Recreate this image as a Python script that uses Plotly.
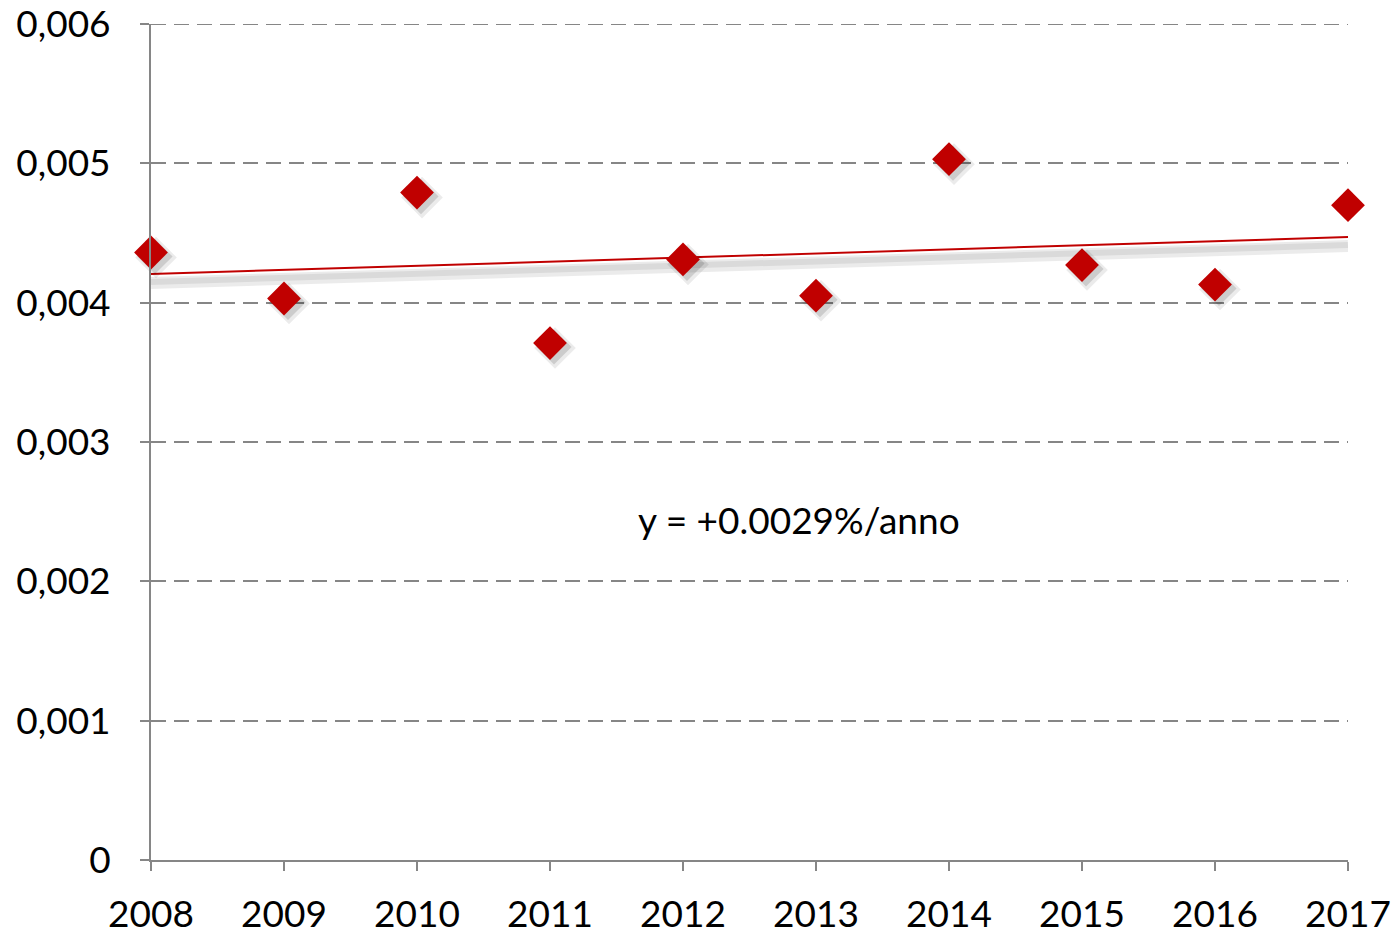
import numpy as np
import plotly.graph_objects as go

years = [2008, 2009, 2010, 2011, 2012, 2013, 2014, 2015, 2016, 2017]
values = [0.00436, 0.00403, 0.00479, 0.00371, 0.00431, 0.00405, 0.00503, 0.00427, 0.00413, 0.00470]
y_ticks = [0, 0.001, 0.002, 0.003, 0.004, 0.005, 0.006]
y_tick_labels = ["0", "0,001", "0,002", "0,003", "0,004", "0,005", "0,006"]
trend_label = "y = +0.0029%/anno"

x = np.array(years, dtype=float)
y = np.array(values)
slope, intercept = np.polyfit(x, y, 1)
trend_x = np.array([years[0], years[-1]], dtype=float)
trend_y = slope * trend_x + intercept

# pixel scale helpers for shadow offsets
px_x = (years[-1] - years[0]) / 1197.0
px_y = 0.006 / 836.0

FONT = "Lato"
RED = "#C00000"
GREY = "#868686"

fig = go.Figure()

# trend line shadow
fig.add_trace(go.Scatter(x=trend_x, y=trend_y - 9 * px_y, mode="lines",
                         line=dict(color="rgba(0,0,0,0.08)", width=12),
                         hoverinfo="skip", showlegend=False, cliponaxis=False))
fig.add_trace(go.Scatter(x=trend_x, y=trend_y - 8 * px_y, mode="lines",
                         line=dict(color="rgba(0,0,0,0.07)", width=6),
                         hoverinfo="skip", showlegend=False, cliponaxis=False))
# trend line
fig.add_trace(go.Scatter(x=trend_x, y=trend_y, mode="lines",
                         line=dict(color=RED, width=2),
                         hoverinfo="skip", showlegend=False, cliponaxis=False))
# marker shadows
fig.add_trace(go.Scatter(x=x + 5 * px_x, y=y - 5 * px_y, mode="markers",
                         marker=dict(symbol="diamond", size=32, color="rgba(0,0,0,0.08)",
                                     line=dict(width=0)),
                         hoverinfo="skip", showlegend=False, cliponaxis=False))
fig.add_trace(go.Scatter(x=x + 4 * px_x, y=y - 4 * px_y, mode="markers",
                         marker=dict(symbol="diamond", size=27, color="rgba(0,0,0,0.13)",
                                     line=dict(width=0)),
                         hoverinfo="skip", showlegend=False, cliponaxis=False))
# data markers
fig.add_trace(go.Scatter(x=x, y=y, mode="markers",
                         marker=dict(symbol="diamond", size=26, color=RED,
                                     line=dict(width=0)),
                         showlegend=False, cliponaxis=False))

# top gridline (plotly omits gridline at range edge)
fig.add_shape(type="line", xref="paper", yref="y", x0=0, x1=1,
              y0=y_ticks[-1], y1=y_ticks[-1],
              line=dict(color=GREY, width=2, dash="15px,8px"), layer="below")

fig.add_annotation(x=0.5417, y=0.4070, xref="paper", yref="paper",
                   text=trend_label, showarrow=False,
                   font=dict(family=FONT, size=37, color="black"))

fig.update_layout(
    width=1396, height=936,
    margin=dict(l=151, r=48, t=24, b=76),
    plot_bgcolor="white", paper_bgcolor="white",
    font=dict(family=FONT, size=37, color="black"),
    xaxis=dict(range=[years[0], years[-1]], tickvals=years,
               ticktext=[str(v) for v in years],
               showgrid=False, zeroline=False, automargin=False,
               showline=True, linecolor=GREY, linewidth=2,
               ticks="outside", ticklen=9, tickwidth=2, tickcolor=GREY,
               ticklabeloverflow="allow", ticklabelstandoff=12,
               tickfont=dict(family=FONT, size=37, color="black")),
    yaxis=dict(range=[0, 0.006], tickvals=y_ticks, ticktext=y_tick_labels,
               showgrid=True, gridcolor=GREY, griddash="15px,8px", gridwidth=2,
               zeroline=False, showline=True, linecolor=GREY, linewidth=2,
               automargin=False, ticklabeloverflow="allow",
               ticks="outside", ticklen=9, tickwidth=2, tickcolor=GREY,
               ticklabelstandoff=22,
               tickfont=dict(family=FONT, size=37, color="black")),
)

fig.write_html("out.html", config={"displayModeBar": False},
               post_script="document.body.style.margin='0';")
